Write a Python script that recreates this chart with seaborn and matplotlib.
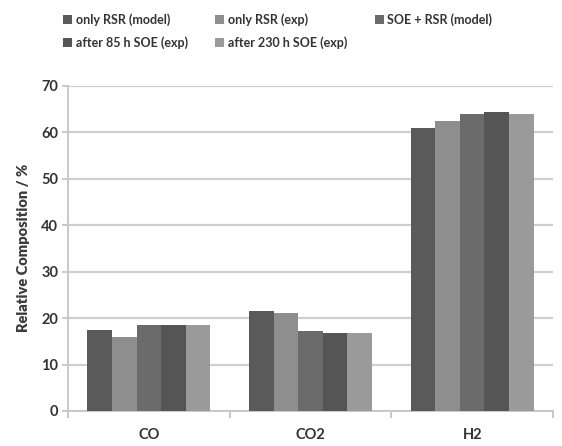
import numpy as np
import pandas as pd
import matplotlib
matplotlib.use("Agg")
import matplotlib.pyplot as plt
from matplotlib.patches import Patch
import seaborn as sns

# data (values per series, in order CO, CO2, H2)
gases = ["CO", "CO2", "H2"]
series = ["only RSR (model)", "only RSR (exp)", "SOE + RSR (model)",
          "after 85 h SOE (exp)", "after 230 h SOE (exp)"]
only_rsr_model = [17.5, 21.5, 60.8]
only_rsr_exp = [15.9, 21.0, 62.3]
soe_rsr_model = [18.6, 17.1, 63.9]
after_85h = [18.6, 16.7, 64.2]
after_230h = [18.6, 16.7, 63.8]

colors = ["#5a5a5a", "#8e8e8e", "#6b6b6b", "#555555", "#9a9a9a"]

vals = [only_rsr_model, only_rsr_exp, soe_rsr_model, after_85h, after_230h]
df = pd.DataFrame({
    "gas": gases * len(series),
    "series": np.repeat(series, len(gases)),
    "value": np.concatenate(vals),
})

sns.set_theme(style="white")
plt.rcParams["font.family"] = ["Lato", "DejaVu Sans"]
plt.rcParams["font.weight"] = "bold"

fig = plt.figure(figsize=(5.62, 4.46), dpi=100)
ax = fig.add_axes([68 / 562, 35 / 446, 485 / 562, 325.5 / 446])

sns.barplot(data=df, x="gas", y="value", hue="series", order=gases,
            hue_order=series, palette=colors, width=0.76, saturation=1,
            linewidth=0, legend=False, ax=ax, zorder=3)

ax.set_ylim(0, 70)
ax.set_xlim(-0.5, 2.5)
ax.set_yticks(range(0, 71, 10))
ax.yaxis.grid(True, color="#cfcfcf", linewidth=1.6, zorder=0)
ax.set_axisbelow(True)
ax.set_xlabel("")
ax.set_ylabel("Relative Composition / %", fontsize=10.5, fontweight="heavy",
              color="#3a3a3a", labelpad=8)

for s in ["top", "right"]:
    ax.spines[s].set_visible(False)
for s in ["left", "bottom"]:
    ax.spines[s].set_color("#c8c8c8")
    ax.spines[s].set_linewidth(1.4)

ax.tick_params(axis="y", length=4, width=1.4, color="#c8c8c8", labelsize=10.5,
               labelcolor="#333333", pad=3, left=True)
ax.set_xticks([0, 1, 2])
ax.set_xticklabels(gases)
ax.set_xticks([-0.5, 0.5, 1.5, 2.5], minor=True)
ax.tick_params(axis="x", which="major", length=0, labelsize=10.5,
               labelcolor="#333333", pad=12)
ax.tick_params(axis="x", which="minor", length=5, width=1.4,
               color="#c8c8c8", bottom=True)
for t in ax.get_xticklabels() + ax.get_yticklabels():
    t.set_fontweight("bold")

handles = [Patch(facecolor=c, edgecolor="none") for c in colors]
order = [0, 3, 1, 4, 2]
fig.legend([handles[i] for i in order], [series[i] for i in order],
           ncol=3, loc="upper left", bbox_to_anchor=(52 / 562, 1 - 2 / 446),
           frameon=False, handlelength=0.7, handleheight=0.7,
           handletextpad=0.3, columnspacing=2.2, labelspacing=0.8,
           labelcolor="#333333", prop={"weight": "bold", "size": 9})

fig.savefig("out.png", dpi=100)
